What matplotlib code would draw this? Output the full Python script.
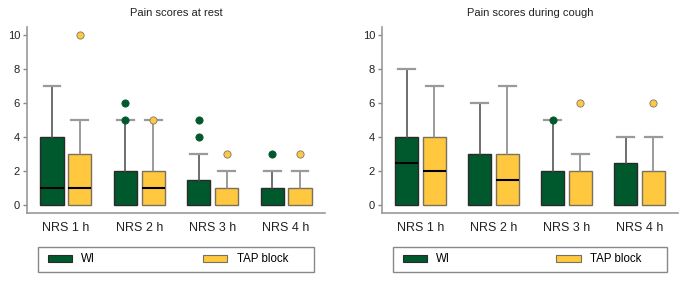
import matplotlib
matplotlib.use("Agg")
import matplotlib.pyplot as plt
from matplotlib.patches import Patch, Rectangle

plt.rcParams['font.family'] = ['Liberation Sans', 'DejaVu Sans']

groups = ["NRS 1 h", "NRS 2 h", "NRS 3 h", "NRS 4 h"]
series_labels = ["WI", "TAP block"]
titles = ["Pain scores at rest", "Pain scores during cough"]
yticks = [0, 2, 4, 6, 8, 10]

# Pain scores at rest
rest_wi_q1 = [0, 0, 0, 0]
rest_wi_med = [1, 0, 0, 0]
rest_wi_q3 = [4, 2, 1.5, 1]
rest_wi_lo = [0, 0, 0, 0]
rest_wi_hi = [7, 5, 3, 2]
rest_wi_fliers = [[], [5, 6], [4, 5], [3]]

rest_tap_q1 = [0, 0, 0, 0]
rest_tap_med = [1, 1, 0, 0]
rest_tap_q3 = [3, 2, 1, 1]
rest_tap_lo = [0, 0, 0, 0]
rest_tap_hi = [5, 5, 2, 2]
rest_tap_fliers = [[10], [5], [3], [3]]

# Pain scores during cough
cough_wi_q1 = [0, 0, 0, 0]
cough_wi_med = [2.5, 0, 0, 0]
cough_wi_q3 = [4, 3, 2, 2.5]
cough_wi_lo = [0, 0, 0, 0]
cough_wi_hi = [8, 6, 5, 4]
cough_wi_fliers = [[], [], [5], []]

cough_tap_q1 = [0, 0, 0, 0]
cough_tap_med = [2, 1.5, 0, 0]
cough_tap_q3 = [4, 3, 2, 2]
cough_tap_lo = [0, 0, 0, 0]
cough_tap_hi = [7, 7, 3, 4]
cough_tap_fliers = [[], [], [6], [6]]

GREEN = "#00592D"
YELLOW = "#FFC83E"


def make_stats(q1, med, q3, lo, hi, fl):
    return [dict(q1=a, med=b, q3=c, whislo=d, whishi=e, fliers=f)
            for a, b, c, d, e, f in zip(q1, med, q3, lo, hi, fl)]


panels = [
    (make_stats(rest_wi_q1, rest_wi_med, rest_wi_q3, rest_wi_lo, rest_wi_hi, rest_wi_fliers),
     make_stats(rest_tap_q1, rest_tap_med, rest_tap_q3, rest_tap_lo, rest_tap_hi, rest_tap_fliers)),
    (make_stats(cough_wi_q1, cough_wi_med, cough_wi_q3, cough_wi_lo, cough_wi_hi, cough_wi_fliers),
     make_stats(cough_tap_q1, cough_tap_med, cough_tap_q3, cough_tap_lo, cough_tap_hi, cough_tap_fliers)),
]

fig = plt.figure(figsize=(6.93, 2.82), dpi=100)
W, H = 693, 282
axes_px = [(27, 325), (382, 678)]
bottom_px, top_px = 213, 27

offset = 0.19
width = 0.315
for k, ((l, r), (wi_stats, tap_stats)) in enumerate(zip(axes_px, panels)):
    ax = fig.add_axes([l / W, 1 - bottom_px / H, (r - l) / W, (bottom_px - top_px) / H])
    pos = list(range(len(groups)))
    for stats, dx, fc, ec, fl_ec, wc in [
        (wi_stats, -offset, GREEN, "#2a2a2a", GREEN, "#555555"),
        (tap_stats, offset, YELLOW, "#7a7060", "#777777", "#8a8a8a"),
    ]:
        bp = ax.bxp(stats, positions=[p + dx for p in pos], widths=width,
                    patch_artist=True, showfliers=True,
                    boxprops=dict(facecolor=fc, edgecolor=ec, linewidth=1.0),
                    medianprops=dict(color="black", linewidth=1.5),
                    whiskerprops=dict(color=wc, linewidth=1.2),
                    capprops=dict(color="#9a9a9a", linewidth=1.6),
                    capwidths=0.23,
                    flierprops=dict(marker="o", markerfacecolor=fc,
                                    markeredgecolor=fl_ec, markersize=5.2,
                                    markeredgewidth=0.6))
        for i, s in enumerate(stats):
            if s["med"] == s["q1"]:
                bp["medians"][i].set_visible(False)
            if s["whislo"] == s["q1"]:
                bp["caps"][2 * i].set_visible(False)
                bp["whiskers"][2 * i].set_visible(False)
    ax.set_xlim(-0.53, 3.53)
    ax.set_ylim(-0.47, 10.47)
    ax.set_yticks(yticks)
    ax.set_xticks(pos)
    ax.set_xticklabels(groups, fontsize=9)
    ax.tick_params(axis="x", length=0, pad=6.5, colors="#222222")
    ax.tick_params(axis="y", length=3, width=1, color="#888888",
                   labelsize=8, pad=2, labelcolor="#222222")
    for sp in ["top", "right"]:
        ax.spines[sp].set_visible(False)
    for sp in ["left", "bottom"]:
        ax.spines[sp].set_color("#999999")
        ax.spines[sp].set_linewidth(1.2)
    ax.set_title(titles[k], fontsize=8, pad=8, color="#222222")

    # legend
    handles = [Patch(facecolor=GREEN, edgecolor="#2a2a2a", linewidth=0.8),
               Patch(facecolor=YELLOW, edgecolor="#7a7060", linewidth=0.8)]
    ax.legend(handles, series_labels, loc="center", ncol=2, mode="expand",
              bbox_to_anchor=(0.0705, -0.317, 0.8054, 0.134),
              frameon=False, borderpad=0, borderaxespad=0,
              handlelength=2.1, handleheight=0.6, handletextpad=0.8,
              fontsize=8.3)
    ax.add_patch(Rectangle((0.037, -0.317), 0.926, 0.134, transform=ax.transAxes,
                           fill=False, edgecolor="#888888", linewidth=1.0,
                           clip_on=False))

fig.savefig("out.png", dpi=100)
